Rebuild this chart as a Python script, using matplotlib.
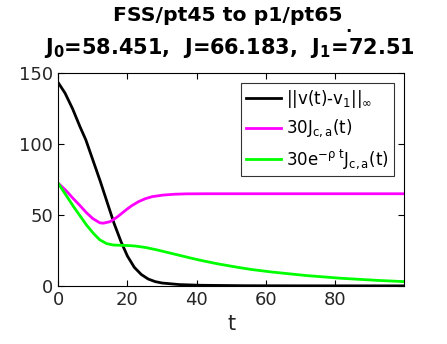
import numpy as np
import matplotlib.pyplot as plt

# values
t_black = [0, 2, 4, 6, 8, 10, 12, 14, 16, 18, 20, 22, 24, 26, 28, 30, 35, 40, 50, 60, 99.8]
v_black = [143.5, 136, 126, 114, 103, 89, 75, 60, 45, 32, 21, 13, 8, 4.8, 3.0, 2.0, 0.9, 0.45, 0.15, 0.05, 0.0]

t_mag = [0, 2, 4, 6, 8, 10, 12, 13, 15, 17, 19, 21, 23, 25, 27, 30, 33, 36, 40, 50, 99.8]
v_mag = [72.5, 68, 62.5, 57.5, 52, 47.5, 44.5, 44.2, 45.3, 48.5, 52.5, 56.2, 59.2, 61.4, 62.9, 64.0, 64.6, 64.9, 65.0, 65.0, 65.0]

t_green = [0, 2, 4, 6, 8, 10, 12, 14, 16, 18, 20, 22, 25, 28, 30, 35, 40, 45, 50, 55, 60, 70, 80, 90, 99.8]
v_green = [72.5, 65, 57.5, 50.5, 43.5, 37.5, 32.5, 29.8, 28.8, 28.6, 28.5, 28.2, 27.2, 25.7, 24.5, 21.5, 18.6, 16.0, 13.8, 11.8, 10.2, 7.6, 5.6, 4.1, 3.0]

labels = [r'||v(t)-v$_1$||$_\infty$', r'30J$_{c,a}$(t)', r'30e$^{-\rho\ t}$J$_{c,a}$(t)']
colors = ['black', '#ff00ff', '#00ff00']
title_lines = ['FSS/pt45 to p1/pt65', r'J$_0$=58.451,  J=66.183,  J$_1$=72.51']

plt.rcParams['mathtext.default'] = 'regular'
plt.rcParams['font.family'] = ['DejaVu Sans']

fig = plt.figure(figsize=(4.47, 3.44), dpi=100)
ax = fig.add_axes([0.130, 0.169, 0.774, 0.618])

tt = np.linspace(0, 99.8, 600)
series = [(t_black, v_black), (t_mag, v_mag), (t_green, v_green)]
for (tx, vy), c, lab in zip(series, colors, labels):
    ax.plot(tt, np.interp(tt, tx, vy), color=c, lw=2, label=lab)

ax.set_xlim(0, 99.8)
ax.set_ylim(0, 150)
ax.set_xticks([0, 20, 40, 60, 80])
ax.set_yticks([0, 50, 100, 150])
ax.tick_params(direction='in', top=True, right=True, labelsize=13,
               labelcolor='#262626', length=4, width=0.8)
for s in ax.spines.values():
    s.set_linewidth(0.8)
ax.set_xlabel('t', fontsize=15, color='#262626', labelpad=4)

# two title lines, placed separately (the reference has wide line spacing)
fig.text(0.510, 0.939, title_lines[0], fontsize=14.7, fontweight='bold',
         ha='center', va='baseline')
fig.text(0.514, 0.843, title_lines[1], fontsize=15, fontweight='bold',
         ha='center', va='baseline')
fig.text(0.773, 0.907, '.', fontsize=12, fontweight='bold', va='baseline')

leg = ax.legend(loc='upper right', fontsize=12, frameon=True, fancybox=False,
                edgecolor='black', handlelength=2.1, handletextpad=0.3,
                borderpad=0.3, labelspacing=0.45, borderaxespad=0.6)
leg.get_frame().set_linewidth(0.8)

fig.savefig('out.png', dpi=100)
